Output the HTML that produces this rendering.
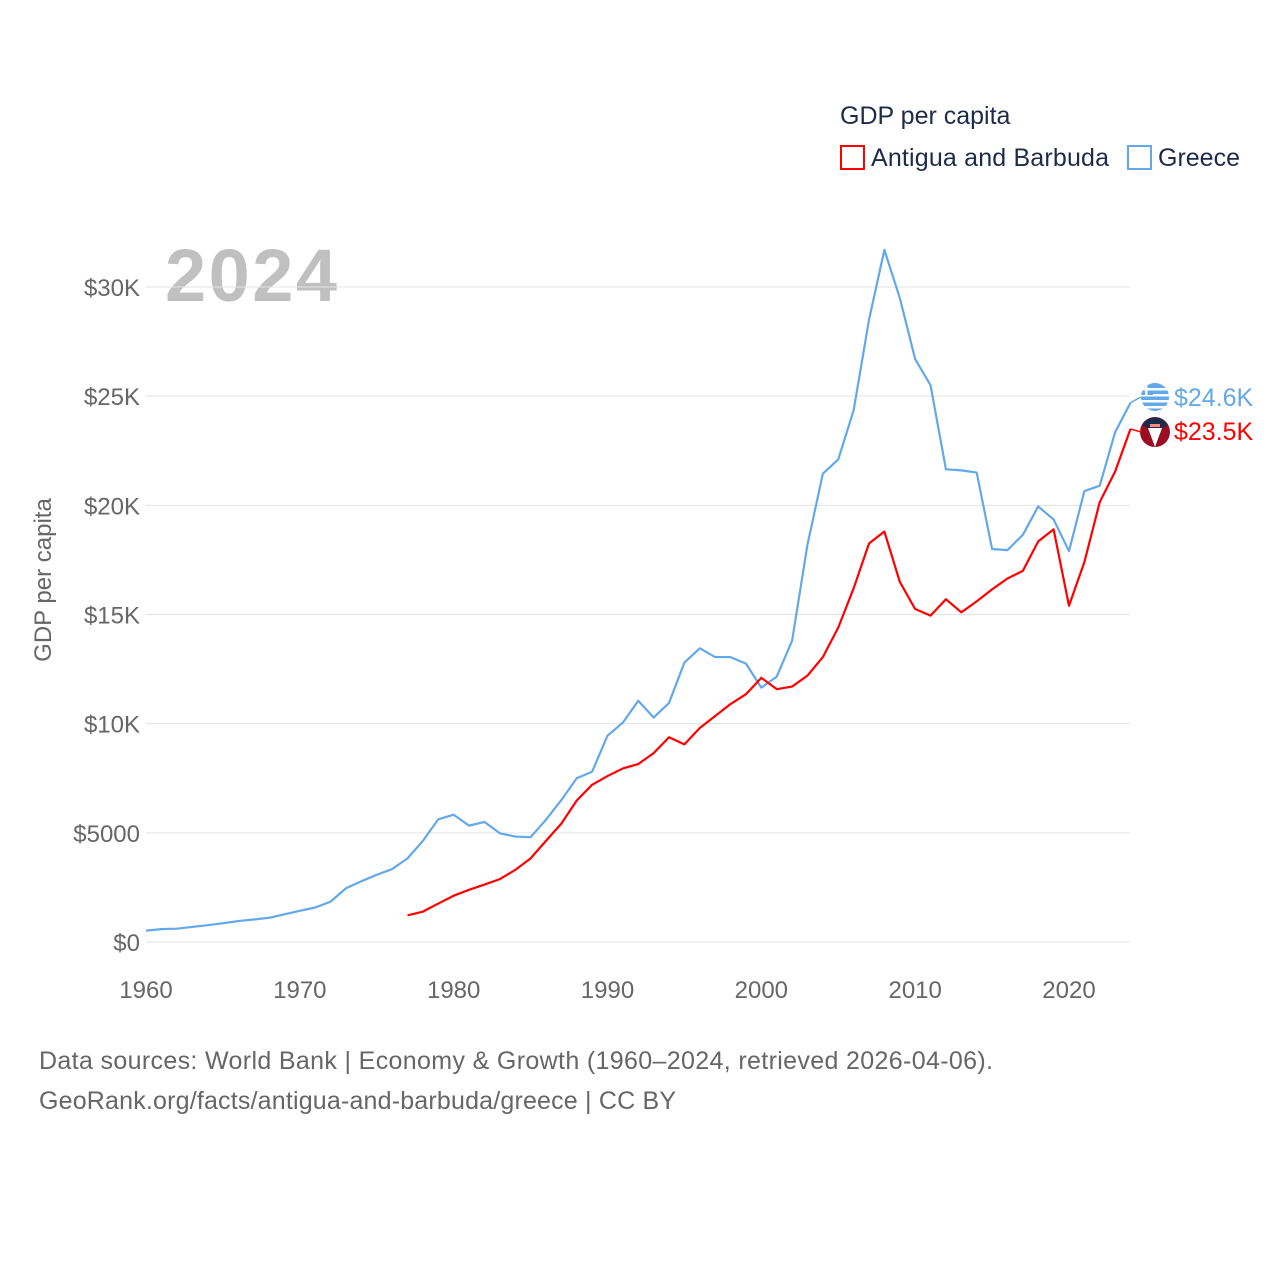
<!DOCTYPE html>
<html><head><meta charset="utf-8"><style>
body{margin:0;background:#fff;font-family:"Liberation Sans",sans-serif}
svg text{font-family:"Liberation Sans",sans-serif}
</style></head><body>
<svg id="c" width="1280" height="1280" xmlns="http://www.w3.org/2000/svg">
<defs><clipPath id="gclip"><circle cx="1155" cy="397" r="14"/></clipPath></defs>
<text x="840" y="124" font-size="25" fill="#1d2b4a">GDP per capita</text>
<rect x="841" y="146" width="23" height="23" fill="none" stroke="#ff0000" stroke-width="2"/>
<text x="871" y="166" font-size="25" fill="#1d2b4a" textLength="238">Antigua and Barbuda</text>
<rect x="1128" y="146" width="23" height="23" fill="none" stroke="#63a8ea" stroke-width="2"/>
<text x="1158" y="166" font-size="25" fill="#1d2b4a">Greece</text>
<text x="165" y="301" font-size="74" font-weight="bold" fill="#c0c0c0" textLength="172">2024</text>
<text transform="translate(51,580) rotate(-90)" text-anchor="middle" font-size="24" fill="#666">GDP per capita</text>
<g id="grid"></g><g id="lines"></g>
<text x="39" y="1069" font-size="25" fill="#666" textLength="954">Data sources: World Bank | Economy &amp; Growth (1960–2024, retrieved 2026-04-06).</text>
<text x="39" y="1109" font-size="25" fill="#666" textLength="637">GeoRank.org/facts/antigua-and-barbuda/greece | CC BY</text>
</svg>
<script>
const yTicks=[0,5000,10000,15000,20000,25000,30000];
const yTickLabels=["$0","$5000","$10K","$15K","$20K","$25K","$30K"];
const xTicks=[1960,1970,1980,1990,2000,2010,2020];
const greeceYears=[1960,1961,1962,1963,1964,1965,1966,1967,1968,1969,1970,1971,1972,1973,1974,1975,1976,1977,1978,1979,1980,1981,1982,1983,1984,1985,1986,1987,1988,1989,1990,1991,1992,1993,1994,1995,1996,1997,1998,1999,2000,2001,2002,2003,2004,2005,2006,2007,2008,2009,2010,2011,2012,2013,2014,2015,2016,2017,2018,2019,2020,2021,2022,2023,2024];
const greeceValues=[520,590,610,690,770,860,960,1030,1110,1270,1430,1580,1850,2460,2780,3080,3340,3830,4630,5620,5830,5330,5500,4980,4830,4800,5600,6500,7500,7800,9450,10050,11050,10280,10950,12800,13450,13050,13050,12750,11650,12150,13800,18200,21450,22100,24350,28500,31700,29500,26700,25500,21650,21600,21500,18000,17950,18650,19950,19350,17900,20650,20900,23350,24700];
const antiguaYears=[1977,1978,1979,1980,1981,1982,1983,1984,1985,1986,1987,1988,1989,1990,1991,1992,1993,1994,1995,1996,1997,1998,1999,2000,2001,2002,2003,2004,2005,2006,2007,2008,2009,2010,2011,2012,2013,2014,2015,2016,2017,2018,2019,2020,2021,2022,2023,2024];
const antiguaValues=[1220,1390,1760,2120,2390,2630,2880,3300,3830,4630,5420,6480,7200,7600,7950,8150,8650,9380,9050,9800,10350,10900,11350,12100,11580,11700,12200,13050,14400,16200,18250,18800,16500,15250,14950,15700,15100,15600,16150,16650,17000,18350,18900,15400,17400,20150,21550,23500];
const NS="http://www.w3.org/2000/svg";
const X=y=>146+(y-1960)*(1069-146)/60;
const Y=v=>942-v*(942-287)/30000;
function mk(t,a,p,txt){const e=document.createElementNS(NS,t);for(const k in a)e.setAttribute(k,a[k]);if(txt!==undefined)e.textContent=txt;p.appendChild(e);return e;}
const g=document.getElementById('grid'),L=document.getElementById('lines');
yTicks.forEach((v,i)=>{
 const l=mk('line',{x1:146,x2:1130,y1:Y(v),y2:Y(v),stroke:'#e3e3e3','stroke-width':1},g);
 
 
 const t=mk('text',{x:140,y:Y(v)+9,'text-anchor':'end','font-size':24,fill:'#666'},g,yTickLabels[i]);
 
 
});
xTicks.forEach(v=>{
 const t=mk('text',{x:X(v),y:998,'text-anchor':'middle','font-size':24,fill:'#666'},g,String(v));
 
 
});
function line(ys,vs,col,name){
 const p=mk('polyline',{points:ys.map((y,i)=>X(y)+','+Y(vs[i])).join(' '),fill:'none',stroke:col,'stroke-width':2.2,'stroke-linejoin':'round'},L);
 
 
}
line(greeceYears,greeceValues,'#63a8ea','greece-line');
line(antiguaYears,antiguaValues,'#ff0000','antigua-line');
const gy=397,ay=432;
const f1=mk('g',{'clip-path':'url(#gclip)'},L);


mk('rect',{x:1140,y:gy-15,width:30,height:30,fill:'#63a8ea'},f1);
[-8,-2,4,10].forEach(d=>mk('rect',{x:1140,y:gy+d-1,width:30,height:2.5,fill:'#fff'},f1));
mk('rect',{x:1140,y:gy-15,width:13,height:13,fill:'#63a8ea'},f1);
mk('rect',{x:1145,y:gy-15,width:2.5,height:13,fill:'#fff'},f1);
mk('rect',{x:1140,y:gy-9,width:13,height:2.5,fill:'#fff'},f1);
const f2=mk('g',{},L);


mk('circle',{cx:1155,cy:ay,r:15,fill:'#9b0d22'},f2);
mk('path',{d:`M1142 ${ay-7} A15 15 0 0 1 1168 ${ay-7} L1162 ${ay-4} L1148 ${ay-4} Z`,fill:'#1d2b4a'},f2);
mk('path',{d:`M1148 ${ay-4} L1162 ${ay-4} L1155 ${ay+15} Z`,fill:'#fff'},f2);
mk('rect',{x:1150,y:ay-8,width:10,height:3,fill:'#f88'},f2);
mk('line',{x1:X(2024),x2:1141,y1:Y(greeceValues[greeceValues.length-1]),y2:gy,stroke:'#63a8ea','stroke-width':1.5},L);
mk('line',{x1:X(2024),x2:1141,y1:Y(antiguaValues[antiguaValues.length-1]),y2:ay,stroke:'#ff0000','stroke-width':1.5},L);
const t1=mk('text',{x:1174,y:gy+9,'font-size':25,fill:'#63a8ea'},L,'$24.6K');


const t2=mk('text',{x:1174,y:ay+8,'font-size':25,fill:'#ff0000'},L,'$23.5K');


</script>
</body></html>
